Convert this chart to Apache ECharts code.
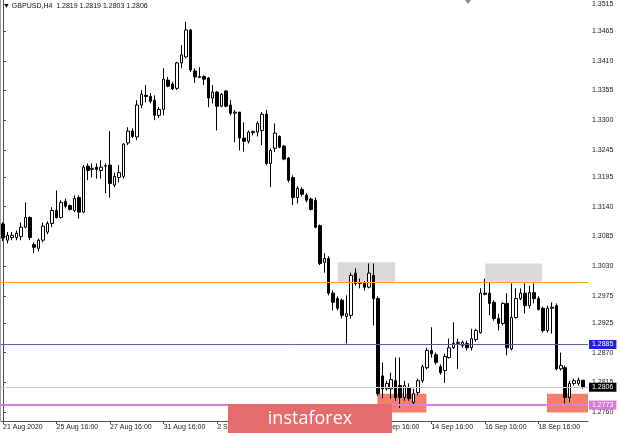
<!DOCTYPE html>
<html><head><meta charset="utf-8">
<script src="https://cdn.jsdelivr.net/npm/echarts@6/dist/echarts.min.js"></script>
<style>html,body{margin:0;padding:0;background:#fff}#c{width:620px;height:433px}</style>
</head><body><div id="c"></div>
<script>
// ---- data (GBPUSD H4) ----
const opens = [
1.3108,1.3078,1.3083,1.3083,1.3085,1.3102,1.3120,1.3070,1.3063,1.3078,
1.3093,1.3109,1.3133,1.3120,1.3150,1.3142,1.3133,1.3157,1.3130,1.3215,
1.3209,1.3213,1.3207,1.3215,1.3217,1.3180,1.3194,1.3196,1.3258,1.3280,
1.3269,1.3328,1.3346,1.3344,1.3337,1.3309,1.3320,1.3374,1.3367,1.3359,
1.3406,1.3417,1.3467,1.3391,1.3379,1.3381,1.3378,1.3341,1.3352,1.3326,
1.3354,1.3328,1.3313,1.3315,1.3267,1.3261,1.3277,1.3278,1.3281,1.3311,
1.3220,1.3248,1.3270,1.3252,1.3230,1.3194,1.3157,1.3172,1.3161,1.3154,
1.3152,1.3105,1.3037,1.3044,1.2980,1.2970,1.2967,1.2937,1.2939,1.3017,
1.2998,1.2998,1.2991,1.3013,1.2970,1.2827,1.2803,1.2803,1.2818,1.2809,
1.2787,1.2805,1.2778,1.2796,1.2818,1.2842,1.2874,1.2866,1.2844,1.2837,
1.2861,1.2879,1.2887,1.2883,1.2887,1.2879,1.2894,1.2907,1.2980,1.2980,
1.2963,1.2933,1.2924,1.2961,1.2877,1.2935,1.2970,1.2980,1.2957,1.2981,
1.2970,1.2952,1.2911,1.2952,1.2957,1.2840,1.2842,1.2787,1.2813,1.2813,
1.2819];
const highs = [
1.3111,1.3093,1.3093,1.3096,1.3111,1.3148,1.3122,1.3074,1.3081,1.3111,
1.3113,1.3139,1.3170,1.3152,1.3155,1.3144,1.3161,1.3161,1.3217,1.3220,
1.3220,1.3220,1.3226,1.3220,1.3280,1.3203,1.3217,1.3257,1.3287,1.3285,
1.3337,1.3356,1.3365,1.3350,1.3346,1.3324,1.3396,1.3380,1.3371,1.3408,
1.3439,1.3482,1.3469,1.3396,1.3398,1.3383,1.3380,1.3365,1.3354,1.3350,
1.3356,1.3337,1.3319,1.3315,1.3296,1.3281,1.3281,1.3298,1.3315,1.3319,
1.3248,1.3294,1.3272,1.3254,1.3232,1.3198,1.3178,1.3176,1.3165,1.3157,
1.3157,1.3107,1.3054,1.3048,1.2985,1.2974,1.2970,1.2976,1.3018,1.3026,
1.3007,1.3002,1.3035,1.3035,1.2974,1.2852,1.2818,1.2833,1.2861,1.2861,
1.2818,1.2813,1.2803,1.2822,1.2848,1.2879,1.2917,1.2870,1.2848,1.2868,
1.2896,1.2926,1.2896,1.2892,1.2892,1.2914,1.2914,1.2989,1.3007,1.3000,
1.2967,1.2942,1.2963,1.2980,1.2998,1.2989,1.2989,1.2998,1.2994,1.2998,
1.2974,1.2955,1.2957,1.2963,1.2961,1.2870,1.2846,1.2818,1.2822,1.2824,
1.2819];
const lows = [
1.3076,1.3072,1.3078,1.3078,1.3078,1.3100,1.3078,1.3054,1.3057,1.3074,
1.3089,1.3102,1.3118,1.3118,1.3137,1.3133,1.3130,1.3118,1.3128,1.3189,
1.3194,1.3192,1.3192,1.3165,1.3157,1.3176,1.3185,1.3192,1.3254,1.3267,
1.3263,1.3322,1.3333,1.3331,1.3300,1.3304,1.3309,1.3361,1.3356,1.3356,
1.3396,1.3415,1.3389,1.3369,1.3378,1.3365,1.3324,1.3331,1.3281,1.3324,
1.3324,1.3309,1.3259,1.3244,1.3242,1.3257,1.3272,1.3270,1.3254,1.3217,
1.3176,1.3241,1.3248,1.3226,1.3185,1.3143,1.3146,1.3159,1.3148,1.3133,
1.3100,1.3032,1.3018,1.2976,1.2948,1.2948,1.2933,1.2887,1.2933,1.2994,
1.2989,1.2985,1.2989,1.2920,1.2790,1.2785,1.2800,1.2785,1.2781,1.2768,
1.2781,1.2781,1.2774,1.2792,1.2814,1.2839,1.2861,1.2848,1.2829,1.2814,
1.2859,1.2877,1.2840,1.2879,1.2874,1.2874,1.2890,1.2905,1.2976,1.2939,
1.2929,1.2911,1.2920,1.2865,1.2874,1.2933,1.2967,1.2942,1.2952,1.2961,
1.2948,1.2907,1.2907,1.2905,1.2837,1.2837,1.2776,1.2778,1.2809,1.2809,
1.2803];
const closes = [
1.3082,1.3087,1.3087,1.3091,1.3102,1.3120,1.3083,1.3065,1.3078,1.3104,
1.3109,1.3133,1.3120,1.3148,1.3141,1.3135,1.3155,1.3130,1.3213,1.3207,
1.3211,1.3209,1.3213,1.3216,1.3183,1.3196,1.3203,1.3256,1.3280,1.3270,
1.3328,1.3348,1.3344,1.3335,1.3309,1.3320,1.3376,1.3363,1.3358,1.3406,
1.3421,1.3467,1.3393,1.3380,1.3381,1.3376,1.3341,1.3352,1.3326,1.3348,
1.3326,1.3313,1.3315,1.3267,1.3261,1.3278,1.3279,1.3294,1.3311,1.3220,
1.3244,1.3276,1.3250,1.3228,1.3189,1.3157,1.3174,1.3163,1.3152,1.3135,
1.3102,1.3035,1.3044,1.2980,1.2963,1.2952,1.2939,1.2942,1.3013,1.2998,
1.3000,1.2991,1.3017,1.2970,1.2794,1.2803,1.2813,1.2820,1.2787,1.2787,
1.2809,1.2785,1.2794,1.2818,1.2844,1.2874,1.2868,1.2852,1.2833,1.2863,
1.2879,1.2887,1.2889,1.2889,1.2879,1.2896,1.2911,1.2980,1.2978,1.2961,
1.2933,1.2924,1.2961,1.2879,1.2935,1.2970,1.2980,1.2957,1.2981,1.2970,
1.2950,1.2911,1.2952,1.2954,1.2840,1.2846,1.2787,1.2813,1.2818,1.2819,
1.2806];

// time axis labels (bar index -> label)
const tickIdx = [0,12,24,36,48,60,72,84,96,108,120];
const tickLabels = ['21 Aug 2020','25 Aug 16:00','27 Aug 16:00','31 Aug 16:00','2 Sep 16:00','4 Sep 16:00','8 Sep 16:00','10 Sep 16:00','14 Sep 16:00','16 Sep 16:00','18 Sep 16:00'];
// price axis labels
const priceTicks = [1.3515,1.3465,1.3410,1.3355,1.3300,1.3245,1.3195,1.3140,1.3085,1.3030,1.2975,1.2925,1.2870,1.2815,1.2760];

// drawn levels and zones (in bar index / price units)
const resistanceLevel = 1.3000;
const supportLevel = 1.2885;
const currentPrice = 1.2806;
const lowLevel = 1.2773;
const grayZones = [[75.0, 87.9, 1.3001, 1.3037], [108.1, 120.8, 1.3001, 1.3035]];
const redZones = [[83.9, 94.9, 1.2759, 1.2794], [121.9, 131.1, 1.2759, 1.2794]];
const titleText = '\u25BC GBPUSD,H4  1.2819 1.2819 1.2803 1.2806';

// ---- chart ----
const FONT = '"Liberation Sans", Arial, sans-serif';
const candles = opens.map((o, i) => [i, o, closes[i], lows[i], highs[i]]);

const areaData = [];
grayZones.forEach(z => areaData.push([{xAxis: z[0], yAxis: z[3], itemStyle: {color: '#d9d9d9', opacity: 1}}, {xAxis: z[1], yAxis: z[2]}]));
redZones.forEach(z => areaData.push([{xAxis: z[0], yAxis: z[3], itemStyle: {color: '#f47e6e', opacity: 1}}, {xAxis: z[1], yAxis: z[2]}]));

function boxLabel(bg) {
  return {show: true, position: 'end', distance: 1, formatter: p => Number(p.value).toFixed(4),
    backgroundColor: bg, color: '#fff', fontSize: 7, fontFamily: FONT, padding: [1, 3, 0, 3], lineHeight: 8};
}

const chart = echarts.init(document.getElementById('c'), null, {renderer: 'canvas'});
chart.setOption({
  animation: false,
  backgroundColor: '#fff',
  grid: {left: 0, right: 32, top: 0, bottom: 12},
  xAxis: {
    type: 'value', min: -0.45, max: 131.1,
    splitLine: {show: false},
    axisLine: {show: true, lineStyle: {color: '#4d4d4d', width: 1}},
    axisTick: {show: true, length: 3, customValues: tickIdx, lineStyle: {color: '#4d4d4d'}},
    axisLabel: {customValues: tickIdx, formatter: v => tickLabels[tickIdx.indexOf(Math.round(v))] || '',
      align: 'left', margin: 3, fontSize: 7, color: '#1a1a1a', fontFamily: FONT}
  },
  yAxis: {
    type: 'value', position: 'right', min: 1.27435, max: 1.35224,
    splitLine: {show: false},
    axisLine: {show: true, lineStyle: {color: '#4d4d4d', width: 1}},
    axisTick: {show: true, length: 3, customValues: priceTicks, lineStyle: {color: '#4d4d4d'}},
    axisLabel: {customValues: priceTicks, formatter: v => v.toFixed(4), margin: 4,
      fontSize: 7, color: '#1a1a1a', fontFamily: FONT}
  },
  series: [{
    type: 'candlestick',
    data: candles,
    barWidth: 3,
    itemStyle: {color: '#ffffff', color0: '#000000', borderColor: '#000000', borderColor0: '#000000', borderWidth: 1},
    markArea: {silent: true, data: areaData},
    markLine: {
      silent: true, symbol: 'none', animation: false, precision: 4,
      data: [
        {yAxis: resistanceLevel, lineStyle: {color: '#f5a31a', width: 1, type: 'solid'}, label: {show: false}},
        {yAxis: currentPrice, lineStyle: {color: '#c8c8c8', width: 1, type: 'solid'}, label: boxLabel('#000000')},
        {yAxis: supportLevel, lineStyle: {color: '#5b5ba6', width: 1, type: 'solid'}, label: boxLabel('#2222dd')},
        {yAxis: lowLevel, lineStyle: {color: '#d97fd9', width: 2, type: 'solid'}, label: boxLabel('#d67ad6')}
      ]
    }
  }],
  graphic: [
    {type: 'line', shape: {x1: 0.5, y1: 0, x2: 0.5, y2: 421}, style: {stroke: '#a0a0a0', lineWidth: 1}, z: 50},
    {type: 'polygon', shape: {points: [[465, 0], [471, 0], [468, 4]]}, style: {fill: '#8a8a8a'}, z: 50},
    {type: 'text', x: 3, y: 3, style: {text: titleText, fontSize: 7, fontFamily: FONT, fill: '#111'}, z: 50},
    {type: 'rect', shape: {x: 228, y: 404, width: 164, height: 30}, style: {fill: '#e46c6c'}, z: 100},
    {type: 'text', x: 310, y: 419, style: {text: 'instaforex', fill: '#ffffff', fontSize: 18,
      fontFamily: '"Open Sans", sans-serif', align: 'center', verticalAlign: 'middle'}, z: 101}
  ]
});
</script></body></html>
